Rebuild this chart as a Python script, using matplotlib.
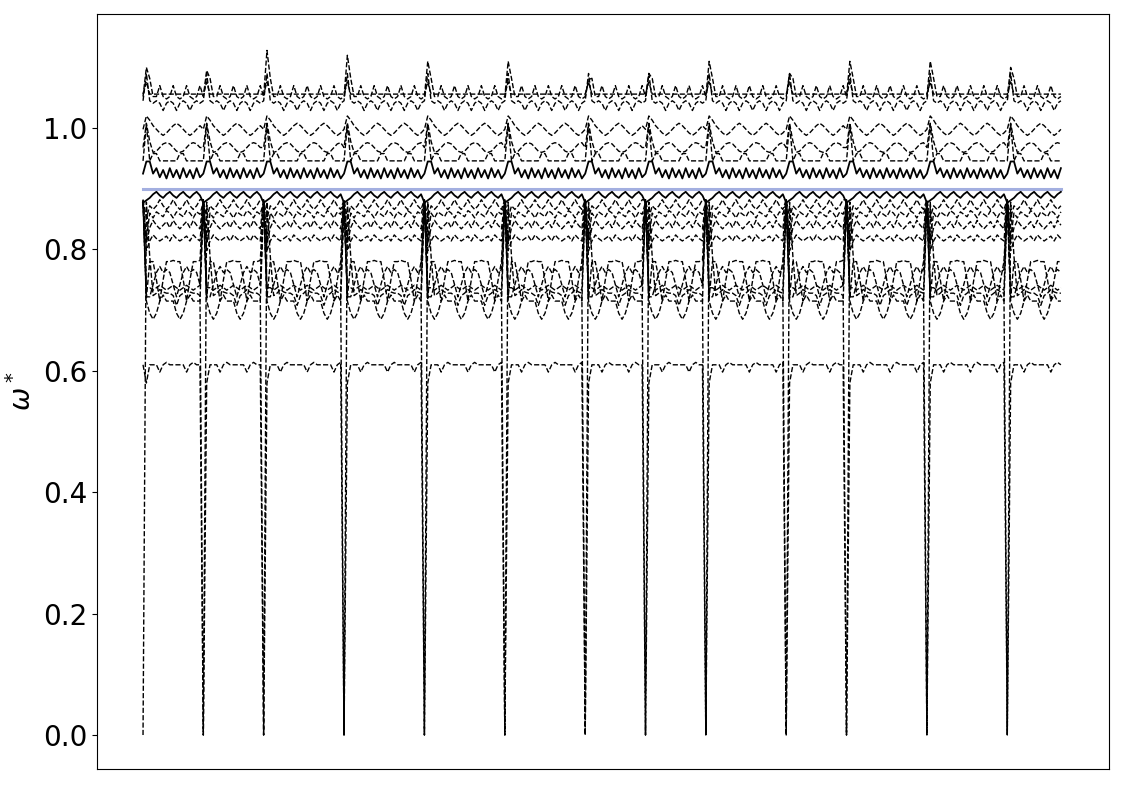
import numpy as np
import matplotlib.pyplot as plt

# restart positions (x units) and end of the record
seg_starts = [0, 3, 6, 10, 14, 18, 22, 25, 28, 32, 35, 39, 43]
x_end = 45.75
steps_per_unit = 6

# height of the top spike right after each restart
spike_tops = [1.10, 1.095, 1.128, 1.12, 1.11, 1.11, 1.08, 1.09, 1.11, 1.09, 1.11, 1.11, 1.10]

# one entry per curve: mean level, line style, repeating ripple,
# values just after each restart (offsets from level, None = top spike), dip at x=0
levels = [1.052, 1.045, 1.056, 0.998, 0.968, 0.946, 0.925, 0.900, 0.889, 0.872,
          0.858, 0.840, 0.818, 0.780, 0.762, 0.737, 0.728, 0.715, 0.610]
styles = ['--', '--', '--', '--', '--', '--', '-', 'band', '-', '--',
          '--', '--', '--', '--', '--', '--', '--', '--', '--']
ripples = [
    [0, 0.018, 0, -0.004],
    [0, -0.004, -0.016, -0.004],
    [0],
    [0, 0.006, 0.010, 0.006, 0, -0.006, -0.010, -0.006],
    [0.006, 0, -0.006, -0.008, -0.006, 0, 0.006, 0.008],
    [0, 0, 0, 0.012, 0.012, 0, 0, 0],
    [0.009, -0.006, 0.006, -0.008],
    [0],
    [0.006, 0, -0.004, 0.002],
    [0, 0.010, 0, -0.006],
    [-0.004, 0.006, 0.002, -0.006, 0.004, 0],
    [0, 0.006, -0.004, 0.008, 0, -0.006],
    [0, 0.004, -0.004, 0.006, 0, -0.004],
    [0, 0.002, 0, 0, -0.030, -0.065, -0.030, 0],
    [0, -0.020, -0.040, -0.020, 0, 0.010, 0, 0.005],
    [0, 0.004, 0, -0.004],
    [0, -0.004, -0.020, -0.004, 0, 0.006, 0.002, 0],
    [0, 0, -0.020, -0.030, -0.020, 0, 0.010, 0],
    [0, 0, 0, 0, 0, -0.012, 0, 0.004],
]
heads = [
    [0.0, None, 0.03, 0.0],
    [0.0, 0.045, 0.0],
    [0.0, 0.02, 0.0],
    [0.0, 0.022, 0.015],
    [0.0, 0.04, 0.01],
    [0.0, 0.06, 0.0],
    [0.0, 0.02, 0.02, 0.0],
    [],
    [-0.012, -0.008],
    [0.010, -0.020],
    [0.020, -0.040],
    [0.040, -0.030],
    [0.060, -0.020],
    [0.100, -0.060],
    [0.120, -0.040],
    [0.140, 0.0],
    [-0.728, 0.150, 0.060],
    [0.160, 0.0],
    [-0.610, -0.030, 0.0],
]
dips_first = [False] * 16 + [True, False, False]


def build_line(level, ripple, head, dip_first):
    bounds = seg_starts + [x_end]
    xs, ys = [], []
    for s in range(len(seg_starts)):
        n = int(round((bounds[s + 1] - bounds[s]) * steps_per_unit))
        if s == len(seg_starts) - 1:
            n += 1
        for k in range(n):
            y = level + ripple[k % len(ripple)]
            if k < len(head):
                h = head[k]
                if h is None:
                    y = spike_tops[s]
                elif s == 0 and level + h < 0.05 and not dip_first:
                    pass
                else:
                    y = level + h
            xs.append(bounds[s] + k / steps_per_unit)
            ys.append(y)
    return np.array(xs), np.array(ys)


fig = plt.figure(figsize=(11.25, 7.85), dpi=100)
ax = fig.add_axes([97 / 1125, 16 / 785, 1012 / 1125, 755 / 785])

for lvl, st, rip, hd, df in zip(levels, styles, ripples, heads, dips_first):
    x, y = build_line(lvl, rip, hd, df)
    if st == 'band':
        ax.plot(x, y, color='#a3afe0', lw=2.2, zorder=1)
    elif st == '-':
        ax.plot(x, y, color='black', lw=1.3, ls='-', zorder=2)
    else:
        ax.plot(x, y, color='black', lw=1.0, ls='--', zorder=2)

ax.set_xlim(-2.29, 48.06)
ax.set_ylim(-0.056, 1.188)
ax.set_xticks([])
ax.set_yticks([0.0, 0.2, 0.4, 0.6, 0.8, 1.0])
ax.set_yticklabels(['0.0', '0.2', '0.4', '0.6', '0.8', '1.0'])
ax.tick_params(axis='y', labelsize=20)
ax.set_ylabel(r'$\omega^*$', fontsize=20)

fig.savefig('out.png', dpi=100)
